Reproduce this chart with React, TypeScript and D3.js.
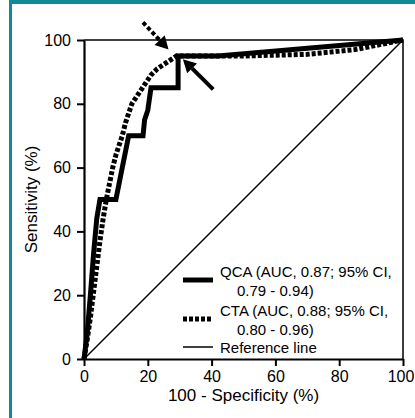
import React, { useEffect, useRef } from 'react';
import * as d3 from 'd3';

// ROC data (x = 100 - specificity, y = sensitivity), in %
const qcaX = [0, 1, 2, 3, 4, 5, 10, 11, 12, 13, 14, 18.5, 19, 20, 21, 29.5, 29.5, 42, 100];
const qcaY = [0, 8, 20, 33, 44, 50, 50, 55, 60, 65, 70, 70, 75, 78, 85, 85, 95, 95, 100];

const ctaX = [0, 1, 2, 3, 4, 5, 6, 7, 8, 9, 10, 11, 12, 13, 14, 15, 17, 19, 21, 23, 26, 29, 50, 70, 85, 100];
const ctaY = [0, 6, 13, 21, 29, 37, 44, 50, 55, 60, 64, 67, 70, 74, 77, 80, 83, 86, 89, 91, 93, 95, 95, 95.5, 97, 100];

const refX = [0, 100];
const refY = [0, 100];

const tickValues = [0, 20, 40, 60, 80, 100];

// annotation arrows: [x0, y0, x1, y1] in data units, pointing at the cut-off
const dottedArrow = [18.5, 105.5, 26.5, 97];
const solidArrow = [40.5, 84.5, 31, 94];

const legendLabels = [
    ['QCA (AUC, 0.87; 95% CI,', '0.79 - 0.94)'],
    ['CTA (AUC, 0.88; 95% CI,', '0.80 - 0.96)'],
    ['Reference line'],
];

const width = 415;
const height = 418;
const teal = '#118a96';
const font = '"Liberation Sans", Arial, sans-serif';

function RocChart() {
    const svgRef = useRef(null);

    useEffect(() => {
        const svg = d3.select(svgRef.current);
        svg.selectAll('*').remove();

        // frame of the figure panel
        svg.append('rect').attr('x', 0).attr('y', 0).attr('width', width).attr('height', height).attr('fill', '#fff');
        svg.append('rect').attr('x', 9).attr('y', 0).attr('width', width - 9).attr('height', 4).attr('fill', teal);
        svg.append('rect').attr('x', 9).attr('y', 0).attr('width', 3).attr('height', height).attr('fill', teal);

        const left = 84, right = 403, top = 40, bottom = 359;
        const x = d3.scaleLinear().domain([0, 100]).range([left, right]);
        const y = d3.scaleLinear().domain([0, 100]).range([bottom, top]);

        const line = d3.line()
            .x((d) => x(d[0]))
            .y((d) => y(d[1]));

        // top and right border of the plot
        svg.append('path')
            .attr('d', `M${x(0)},${y(100)}H${x(100)}V${y(0)}`)
            .attr('fill', 'none')
            .attr('stroke', '#000')
            .attr('stroke-width', 1.5);

        // reference line
        svg.append('path')
            .attr('d', line(d3.zip(refX, refY)))
            .attr('fill', 'none')
            .attr('stroke', '#000')
            .attr('stroke-width', 1.5);

        // CTA (dotted)
        svg.append('path')
            .attr('d', line(d3.zip(ctaX, ctaY)))
            .attr('fill', 'none')
            .attr('stroke', '#000')
            .attr('stroke-width', 5)
            .attr('stroke-dasharray', '4,2');

        // QCA (solid)
        svg.append('path')
            .attr('d', line(d3.zip(qcaX, qcaY)))
            .attr('fill', 'none')
            .attr('stroke', '#000')
            .attr('stroke-width', 5)
            .attr('stroke-linejoin', 'miter');

        // arrows
        const drawArrow = (a, dashed) => {
            const [x0, y0, x1, y1] = [x(a[0]), y(a[1]), x(a[2]), y(a[3])];
            const ang = Math.atan2(y1 - y0, x1 - x0);
            const headLen = 13, headW = 7;
            const bx = x1 - headLen * Math.cos(ang);
            const by = y1 - headLen * Math.sin(ang);
            svg.append('line')
                .attr('x1', x0).attr('y1', y0).attr('x2', bx).attr('y2', by)
                .attr('stroke', '#000')
                .attr('stroke-width', 4)
                .attr('stroke-dasharray', dashed ? '4,2.5' : null);
            const px = -Math.sin(ang) * headW, py = Math.cos(ang) * headW;
            svg.append('path')
                .attr('d', `M${x1},${y1}L${bx + px},${by + py}L${bx - px},${by - py}Z`)
                .attr('fill', '#000');
        };
        drawArrow(dottedArrow, true);
        drawArrow(solidArrow, false);

        // axes
        const yAxis = svg.append('g')
            .attr('transform', `translate(${left},0)`)
            .call(d3.axisLeft(y).tickValues(tickValues).tickSize(7).tickPadding(6).tickSizeOuter(0));
        const xAxis = svg.append('g')
            .attr('transform', `translate(0,${bottom})`)
            .call(d3.axisBottom(x).tickValues(tickValues).tickSize(7).tickPadding(5).tickSizeOuter(0));
        [xAxis, yAxis].forEach((g) => {
            g.select('.domain').attr('stroke', '#000').attr('stroke-width', 2.2);
            g.selectAll('.tick line').attr('stroke', '#000').attr('stroke-width', 2);
            g.selectAll('.tick text')
                .attr('fill', '#000')
                .style('font-family', font)
                .style('font-size', '16px');
        });
        // last x label sits against the right edge of the panel
        xAxis.selectAll('.tick text').filter((d) => d === 100).attr('dx', -2.5);

        // axis titles
        svg.append('text')
            .attr('x', (left + right) / 2)
            .attr('y', 401)
            .attr('text-anchor', 'middle')
            .style('font-family', font)
            .style('font-size', '17px')
            .text('100 - Specificity (%)');
        svg.append('text')
            .attr('transform', `translate(37,${(top + bottom) / 2}) rotate(-90)`)
            .attr('text-anchor', 'middle')
            .style('font-family', font)
            .style('font-size', '17px')
            .text('Sensitivity (%)');

        // legend
        const swatchY = [280, 319, 347];
        const textY = [277, 316, 353];
        const styles = [
            { w: 5, dash: null },
            { w: 5, dash: '4,2' },
            { w: 1.5, dash: null },
        ];
        legendLabels.forEach((lines, i) => {
            svg.append('line')
                .attr('x1', 183).attr('x2', 213)
                .attr('y1', swatchY[i]).attr('y2', swatchY[i])
                .attr('stroke', '#000')
                .attr('stroke-width', styles[i].w)
                .attr('stroke-dasharray', styles[i].dash);
            lines.forEach((t, j) => {
                svg.append('text')
                    .attr('x', j === 0 ? 220 : 237)
                    .attr('y', textY[i] + j * 19)
                    .style('font-family', font)
                    .style('font-size', '15px')
                    .text(t);
            });
        });
    }, []);

    return (
        <svg
            ref={svgRef}
            width={width}
            height={height}
            style={{ position: 'absolute', left: 0, top: 0 }}
        ></svg>
    );
}

export default function App() {
    return <RocChart />;
}
